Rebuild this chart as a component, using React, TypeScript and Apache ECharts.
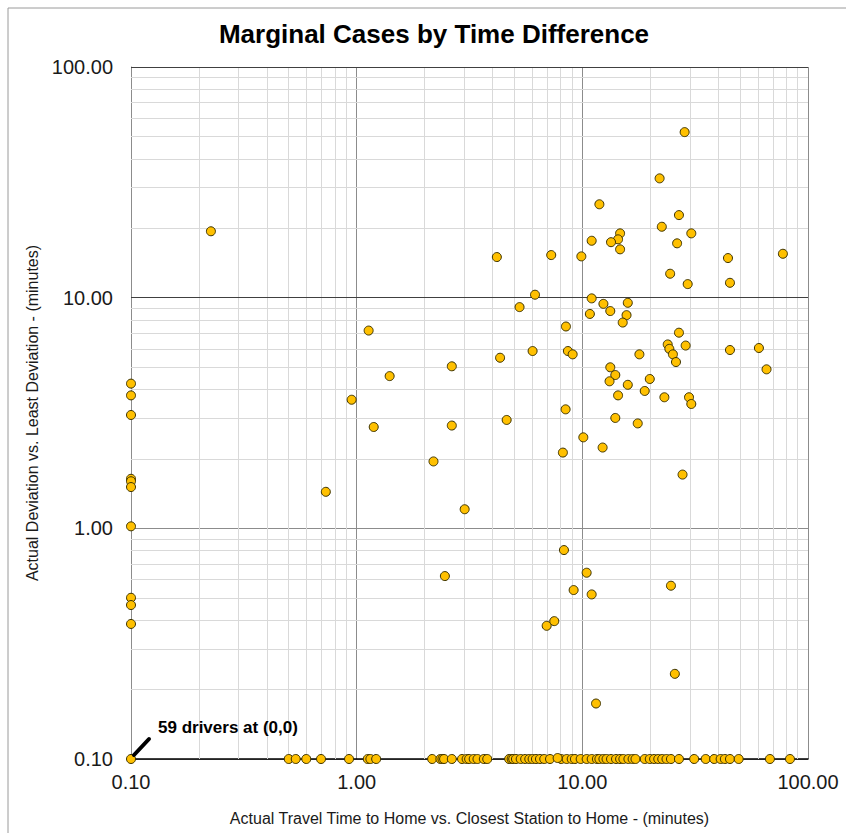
import React, { useEffect, useRef } from "react";
import * as echarts from "echarts";

const chartTitle = "Marginal Cases by Time Difference";
const xAxisTitle = "Actual Travel Time to Home vs. Closest Station to Home - (minutes)";
const yAxisTitle = "Actual Deviation vs. Least Deviation - (minutes)";
const annotationText = "59 drivers at (0,0)";

// Axis bounds (log scale), tick labels are rendered as value.toFixed(2)
const axisMin = 0.1;
const axisMax = 100;
const decadeStarts = [0.1, 1, 10];
const minorMultipliers = [2, 3, 4, 5, 6, 7, 8, 9];

// Points with zero travel-time difference (plotted at x = 0.10)
const zeroTimeDeviations = [4.24, 3.77, 3.1, 1.64, 1.6, 1.51, 1.02, 0.5, 0.465, 0.385];

// Points with zero deviation difference (plotted at y = 0.10)
const zeroDeviationTimes = [
  0.1, 0.5, 0.537, 0.598, 0.695, 0.925, 1.12, 1.15, 1.22, 2.16, 2.35, 2.4, 2.44, 2.64,
  2.93, 3.07, 3.15, 3.3, 3.43, 3.66, 3.79, 4.74, 4.86, 4.94, 5.08, 5.33, 5.58, 5.82,
  6.02, 6.23, 6.49, 6.78, 7.19, 8.06, 8.52, 8.97, 9.27, 9.83, 10.45, 11.0, 11.6,
  11.9, 12.4, 12.8, 13.4, 14.1, 14.7, 15.2, 16.0, 16.7, 17.2, 18.9, 19.9, 20.8, 21.7,
  22.6, 23.6, 24.7, 26.8, 31.3, 35.2, 38.4, 41.0, 42.8, 45.1, 49.3, 67.8, 83.2,
];

// Remaining drivers: travel-time difference and deviation difference
const travelTimes = [
  0.226, 1.13, 1.4, 0.95, 1.19, 2.19, 0.73, 2.64, 2.64, 3.01, 2.46,
  28.4, 22.0, 11.9, 26.8, 22.5, 30.4, 14.7, 14.4, 13.4, 11.0, 26.3, 14.7,
  4.18, 7.28, 9.9, 44.2, 77.4, 24.5, 29.3, 45.1, 6.17, 5.27, 11.0, 12.4, 15.9,
  10.8, 13.3, 15.7, 15.1, 8.46, 26.8, 23.9, 24.3, 28.7, 25.2, 26.0, 17.9, 45.1,
  60.6, 65.5, 4.32, 6.02, 8.63, 9.06, 13.3, 14.0, 13.2, 19.9, 15.9, 18.9, 14.4,
  23.1, 29.7, 30.4, 8.43, 4.62, 14.0, 17.6, 10.1, 12.3, 8.2, 27.8, 8.29, 10.45,
  9.15, 11.0, 24.7, 6.95, 7.51, 25.7, 11.5, 7.77,
];
const deviations = [
  19.4, 7.2, 4.57, 3.61, 2.75, 1.95, 1.44, 5.04, 2.79, 1.21, 0.621,
  52.2, 32.9, 25.4, 22.8, 20.3, 19.0, 19.0, 17.9, 17.4, 17.65, 17.2, 16.2,
  15.0, 15.3, 15.1, 14.85, 15.5, 12.7, 11.45, 11.6, 10.3, 9.1, 9.93, 9.4, 9.5,
  8.5, 8.75, 8.4, 7.8, 7.5, 7.05, 6.27, 6.0, 6.2, 5.68, 5.26, 5.68, 5.93,
  6.05, 4.89, 5.49, 5.87, 5.87, 5.68, 4.99, 4.62, 4.34, 4.44, 4.19, 3.94, 3.77,
  3.7, 3.7, 3.46, 3.28, 2.95, 3.01, 2.85, 2.48, 2.24, 2.13, 1.71, 0.805, 0.642,
  0.54, 0.517, 0.564, 0.378, 0.396, 0.234, 0.174, 0.101,
];

const FONT = "'Liberation Sans', Arial, sans-serif";

export default function App() {
  const ref = useRef<HTMLDivElement>(null);

  useEffect(() => {
    if (!ref.current) return;
    const chart = echarts.init(ref.current, null, { renderer: "svg" });

    const points: [number, number][] = [
      ...zeroTimeDeviations.map((y) => [axisMin, y] as [number, number]),
      ...zeroDeviationTimes.map((x) => [x, axisMin] as [number, number]),
      ...travelTimes.map((x, i) => [x, deviations[i]] as [number, number]),
    ];

    const minorValues: number[] = [];
    decadeStarts.forEach((d) => minorMultipliers.forEach((m) => minorValues.push(+(d * m).toFixed(4))));

    const gridLines = [
      ...minorValues.map((v) => ({ xAxis: v })),
      ...minorValues.map((v) => ({ yAxis: v })),
    ];

    chart.setOption({
      animation: false,
      backgroundColor: "#ffffff",
      title: {
        text: chartTitle,
        left: 429,
        top: 16,
        textAlign: "center",
        textStyle: { fontFamily: FONT, fontSize: 26, fontWeight: "bold", color: "#000" },
      },
      grid: { left: 131, right: 38, top: 67, bottom: 74 },
      xAxis: {
        type: "log",
        logBase: 10,
        min: axisMin,
        max: axisMax,
        name: xAxisTitle,
        nameLocation: "middle",
        nameGap: 51,
        nameTextStyle: { fontFamily: FONT, fontSize: 16, color: "#1a1a1a" },
        axisLine: { show: true, onZero: false, lineStyle: { color: "#000", width: 1.5 } },
        axisTick: { show: false },
        axisLabel: {
          fontFamily: FONT,
          fontSize: 20,
          color: "#1a1a1a",
          margin: 13,
          formatter: (v: number) => v.toFixed(2),
        },
        splitLine: { show: true, lineStyle: { color: "#8c8c8c", width: 1 } },
      },
      yAxis: {
        type: "log",
        logBase: 10,
        min: axisMin,
        max: axisMax,
        name: yAxisTitle,
        nameLocation: "middle",
        nameGap: 90,
        nameTextStyle: { fontFamily: FONT, fontSize: 16, color: "#1a1a1a" },
        axisLine: { show: true, onZero: false, lineStyle: { color: "#8c8c8c", width: 1 } },
        axisTick: { show: false },
        axisLabel: {
          fontFamily: FONT,
          fontSize: 20,
          color: "#1a1a1a",
          margin: 18,
          formatter: (v: number) => v.toFixed(2),
        },
        splitLine: { show: true, lineStyle: { color: "#8c8c8c", width: 1 } },
      },
      series: [
        {
          type: "scatter",
          data: [],
          silent: true,
          markLine: {
            silent: true,
            z: 1,
            symbol: ["none", "none"],
            label: { show: false },
            emphasis: { disabled: true },
            lineStyle: { color: "#d9d9d9", width: 1, type: "solid" },
            data: gridLines,
          },
        },
        {
          type: "scatter",
          data: [],
          silent: true,
          markLine: {
            silent: true,
            z: 1,
            symbol: ["none", "none"],
            label: { show: false },
            emphasis: { disabled: true },
            lineStyle: { color: "#404040", width: 1, type: "solid" },
            data: [{ yAxis: 10 }, { yAxis: 100 }],
          },
        },
        {
          type: "scatter",
          z: 3,
          symbol: "circle",
          symbolSize: 9,
          data: points,
          itemStyle: { color: "#FFC000", borderColor: "#3d3300", borderWidth: 1, opacity: 1 },
        },
      ],
      graphic: [
        {
          type: "rect",
          shape: { x: 8, y: 8, width: 900, height: 900 },
          style: { fill: "none", stroke: "#9a9a9a", lineWidth: 1 },
          silent: true,
        },
        {
          type: "line",
          shape: { x1: 134, y1: 755, x2: 149, y2: 739 },
          style: { stroke: "#000", lineWidth: 4, lineCap: "round" },
          z: 10,
        },
        {
          type: "text",
          x: 158,
          y: 727,
          style: {
            text: annotationText,
            fontFamily: FONT,
            fontSize: 17,
            fontWeight: "bold",
            fill: "#000",
            verticalAlign: "middle",
            textAlign: "left",
          },
          z: 10,
        },
      ],
    });

    return () => chart.dispose();
  }, []);

  return (
    <div
      ref={ref}
      style={{ position: "fixed", left: 0, top: 0, width: 846, height: 833 }}
    />
  );
}
